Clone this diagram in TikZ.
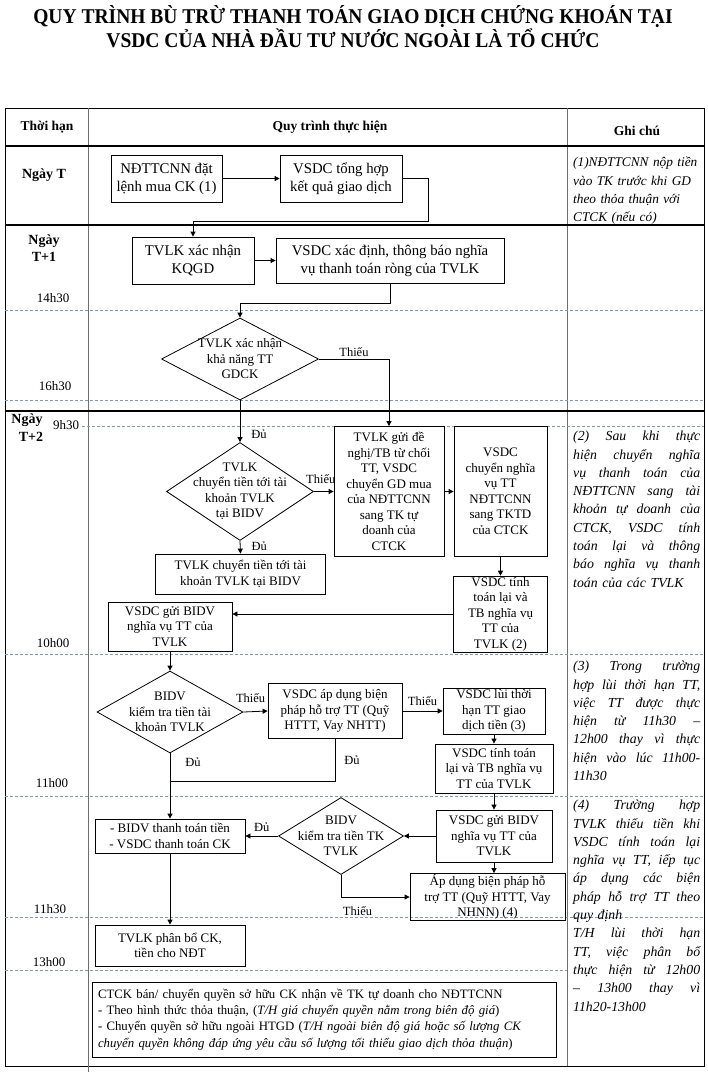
\documentclass[tikz,border=0pt]{standalone}
\usepackage{fontspec}
\setmainfont{Liberation Serif}
\usetikzlibrary{shapes.geometric,arrows.meta}
\definecolor{gridblue}{RGB}{125,155,180}
\definecolor{colgray}{RGB}{110,110,110}
\newlength{\notew}\setlength{\notew}{127pt}
\newcommand{\jline}[1]{\makebox[\notew][s]{\spaceskip=0.3333em plus 1fil\relax #1}\\}

\begin{document}
\begin{tikzpicture}[x=1pt,y=-1pt,
  every node/.style={font=\fontsize{13}{15.5}\selectfont},
  box/.style={draw, line width=0.8pt, align=center, inner sep=1pt},
  bigbox/.style={box, font=\fontsize{14.8}{18}\selectfont},
  dec/.style={draw, diamond, line width=0.8pt, align=center, inner xsep=-22pt, inner ysep=-14pt},
  arr/.style={line width=0.8pt, -{Triangle[length=5pt,width=5pt]}},
  conn/.style={line width=0.8pt},
  lbl/.style={font=\fontsize{12.5}{14}\selectfont, inner sep=1pt},
  head/.style={font=\fontsize{13.5}{16}\selectfont\bfseries},
  day/.style={font=\fontsize{14}{17}\selectfont\bfseries, align=center},
  timeline/.style={gridblue, line width=0.6pt, dash pattern=on 3pt off 2pt},
  dayline/.style={line width=1.8pt},
  note/.style={font=\fontsize{13.8}{18.3}\selectfont\itshape, anchor=north west, inner sep=0pt, align=left, text width=\notew},
]
  \useasboundingbox (0,0) rectangle (707,1073);
  % title
  \node[font=\fontsize{21}{20}\selectfont\bfseries, align=center] (title) at (353,27)
    {\scalebox{0.93}[1]{QUY TRÌNH BÙ TRỪ THANH TOÁN GIAO DỊCH CHỨNG KHOÁN TẠI}\\
     \scalebox{0.93}[1]{VSDC CỦA NHÀ ĐẦU TƯ NƯỚC NGOÀI LÀ TỔ CHỨC}};

  % table frame
  \draw[line width=0.8pt] (5,108) rectangle (704,1066);
  \draw[colgray, line width=0.8pt] (88,108) -- (88,1072);
  \draw[colgray, line width=0.8pt] (567,108) -- (567,1066);
  \draw[dayline] (5,146) -- (704,146);
  \draw[dayline] (5,225) -- (704,225);
  \draw[dayline] (5,411) -- (704,411);
  \foreach \y in {310,400,654,796,917}
    \draw[timeline] (5,\y) -- (704,\y);
  \draw[timeline] (82,426) -- (704,426);
  \draw[timeline] (5,970) -- (567,970);
  \node[head] (hTime) at (47,127) {Thời hạn};
  \node[head] (hFlow) at (330,127) {Quy trình thực hiện};
  \node[head] (hNote) at (637,131) {Ghi chú};

  % time column
  \node[day] (dT) at (44,175) {Ngày T};
  \node[day] (dT1) at (44,248) {Ngày\\T+1};
  \node[day] (dT2a) at (27,420) {Ngày};
  \node[day] (dT2b) at (31,437) {T+2};
  \node (t1430) at (53,298) {14h30};
  \node (t1630) at (55,386) {16h30};
  \node (t0930) at (66,425) {9h30};
  \node (t1000) at (53,643) {10h00};
  \node (t1100) at (52,783) {11h00};
  \node (t1130) at (50,909) {11h30};
  \node (t1300) at (49,962) {13h00};

  % Ngay T
  \node[bigbox, minimum width=111pt, minimum height=47pt] (order) at (166.5,178.5) {NĐTTCNN đặt\\lệnh mua CK (1)};
  \node[bigbox, minimum width=122pt, minimum height=47pt] (summary) at (341,178.5) {VSDC tổng hợp\\kết quả giao dịch};
  \draw[arr] (order) -- (summary);

  % Ngay T+1
  \node[bigbox, minimum width=122pt, minimum height=47pt] (confirm) at (193,260.5) {TVLK xác nhận\\KQGD};
  \node[bigbox, minimum width=228pt, minimum height=45pt] (netobl) at (390,260.5) {VSDC xác định, thông báo nghĩa\\vụ thanh toán ròng của TVLK};
  \coordinate (sumturn) at (428,221);
  \draw[arr] (summary.east) -| (sumturn) -| (confirm.north);
  \draw[arr] (confirm) -- (netobl);
  \node[dec, minimum width=157pt, minimum height=82pt] (ablechk) at (240,359) {TVLK  xác nhận\\khả năng TT\\GDCK};
  \coordinate (netturn) at (390,303);
  \draw[arr] (netobl.south) -- (netturn) -| (ablechk.north);

  % Ngay T+2, 9h30 - 10h00
  \node[box, minimum width=110pt, minimum height=130pt] (reject) at (389,491.5)
    {TVLK  gửi đề\\nghị/TB từ chối\\TT, VSDC\\chuyển GD  mua\\của NĐTTCNN\\sang TK tự\\doanh của\\CTCK};
  \node[box, minimum width=93pt, minimum height=130pt] (transfer) at (500.5,491.5)
    {VSDC\\chuyển nghĩa\\vụ TT\\NĐTTCNN\\sang TKTD\\của CTCK};
  \node[dec, minimum width=147pt, minimum height=98pt] (movechk) at (240,491.5)
    {TVLK\\chuyển tiền tới tài\\khoản TVLK\\tại BIDV};
  \node[box, minimum width=170pt, minimum height=40pt] (moved) at (240.5,574) {TVLK  chuyển tiền tới tài\\khoản TVLK  tại BIDV};
  \node[box, minimum width=94pt, minimum height=74pt] (recalc) at (500.5,614) {VSDC  tính\\toán lại  và\\TB nghĩa vụ\\TT  của\\TVLK  (2)};
  \node[box, minimum width=124pt, minimum height=49pt] (sendbidv) at (170,626.5) {VSDC  gửi BIDV\\nghĩa vụ TT của\\TVLK};
  \draw[arr] (ablechk.east) -| node[lbl, pos=0.25, above=1pt] (shortA) {Thiếu} (reject.north);
  \draw[arr] (ablechk.south) -- node[lbl, pos=0.8, right=10pt] (okA) {Đủ} (movechk.north);
  \draw[arr] (movechk.east) -- node[lbl, above=6pt, pos=0.35] (shortB) {Thiếu} (reject.west);
  \draw[arr] (reject) -- (transfer);
  \draw[arr] (movechk.south) -- node[lbl, pos=0.4, right=10pt] (okB) {Đủ} (moved.north);
  \draw[arr] (transfer) -- (recalc);
  \draw[arr] (recalc.west) -- (recalc.west -| sendbidv.east);

  % 10h00 - 11h00
  \node[dec, minimum width=146pt, minimum height=82pt] (bidvchk) at (170,712) {BIDV\\kiểm  tra tiền tài\\khoản TVLK};
  \node[box, minimum width=134pt, minimum height=55pt] (support) at (335,711) {VSDC  áp dụng biện\\pháp hỗ trợ TT (Quỹ\\HTTT, Vay NHTT)};
  \node[box, minimum width=102pt, minimum height=46pt] (delay) at (494,711) {VSDC  lùi thời\\hạn TT giao\\dịch tiền (3)};
  \node[box, minimum width=118pt, minimum height=49pt] (recalc2) at (494,768.5) {VSDC  tính toán\\lại và TB nghĩa vụ\\TT của TVLK};
  \draw[arr] (sendbidv) -- (bidvchk);
  \draw[arr] (bidvchk.east) -- node[lbl, above=8pt, pos=0.3] (shortC) {Thiếu} (support.west);
  \draw[arr] (support.east) -- node[lbl, above=4pt] (shortD) {Thiếu} (delay.west);
  \draw[arr] (delay) -- (recalc2);
  \coordinate (supjoin) at (335,781);
  \draw[conn] (support.south) -- node[lbl, right=8pt] (okD) {Đủ} (supjoin) -- (supjoin -| bidvchk.south);

  % 11h00 - 13h00
  \node[box, minimum width=150pt, minimum height=34pt] (settle) at (170,836) {- BIDV   thanh toán tiền\\- VSDC   thanh toán CK};
  \node[dec, minimum width=125pt, minimum height=77pt] (bidvchk2) at (341,836) {BIDV\\kiểm  tra tiền TK\\TVLK};
  \node[box, minimum width=116pt, minimum height=52pt] (sendbidv2) at (494,836) {VSDC  gửi BIDV\\nghĩa vụ TT của\\TVLK};
  \node[box, minimum width=155pt, minimum height=46pt] (support2) at (487.5,897) {Áp dụng biện pháp hỗ\\trợ TT (Quỹ HTTT, Vay\\NHNN)  (4)};
  \node[box, minimum width=150pt, minimum height=41pt] (alloc) at (170,945.5) {TVLK phân bổ CK,\\tiền cho NĐT};
  \draw[arr] (bidvchk.south) -- node[lbl, pos=0.14, right=14pt] (okC) {Đủ} (settle.north);
  \draw[arr] (recalc2) -- (sendbidv2);
  \draw[arr] (sendbidv2.west) -- (bidvchk2.east);
  \draw[arr] (sendbidv2.south) -- (sendbidv2.south |- support2.north);
  \draw[arr] (bidvchk2.west) -- node[lbl, above=3pt] (okE) {Đủ} (settle.east);
  \draw[arr] (bidvchk2.south) |- node[lbl, pos=0.62, below=8pt] (shortE) {Thiếu} (support2.west);
  \draw[arr] (settle) -- (alloc);

  % sale note
  \node[box, font=\fontsize{12.8}{16.3}\selectfont, align=left, text width=452pt, inner xsep=6pt, minimum height=75pt] (sellnote) at (324,1019.5)
    {CTCK  bán/ chuyển quyền sở hữu CK  nhận về TK  tự doanh cho NĐTTCNN\\
     - Theo hình thức thỏa thuận, (\textit{T/H  giá chuyển quyền nằm trong biên độ giá})\\
     - Chuyển quyền sở hữu ngoài HTGD  (\textit{T/H ngoài biên độ giá hoặc số lượng CK}\\
     \textit{chuyển quyền không đáp ứng yêu cầu số lượng tối thiểu giao dịch thỏa thuận})};

  % notes column
  \node[note, font=\fontsize{13.3}{18.3}\selectfont\itshape] (note1) at (573,157)
    {(1)NĐTTCNN nộp tiền\\vào TK trước  khi GD\\theo thỏa thuận với\\CTCK (nếu có)};
  \node[note] (note2) at (573,431)
    {\jline{(2) Sau khi thực}\jline{hiện chuyển nghĩa}\jline{vụ thanh toán của}\jline{NĐTTCNN sang tài}\jline{khoản tự doanh của}\jline{CTCK, VSDC tính}\jline{toán lại và thông}\jline{báo nghĩa vụ thanh}toán của các TVLK};
  \node[note] (note3) at (573,661)
    {\jline{(3) Trong trường}\jline{hợp lùi thời hạn TT,}\jline{việc TT được thực}\jline{hiện từ 11h30 –}\jline{12h00 thay vì thực}\jline{hiện vào lúc 11h00-}11h30};
  \node[note] (note4) at (573,800)
    {\jline{(4) Trường hợp}\jline{TVLK thiếu tiền khi}\jline{VSDC tính toán lại}\jline{nghĩa vụ TT, iếp tục}\jline{áp dụng các biện}\jline{pháp hỗ trợ TT theo}quy định};
  \node[note] (note5) at (573,928)
    {\jline{T/H lùi thời hạn}\jline{TT, việc phân bổ}\jline{thực hiện từ 12h00}\jline{– 13h00 thay vì}11h20-13h00};
\end{tikzpicture}
\end{document}
